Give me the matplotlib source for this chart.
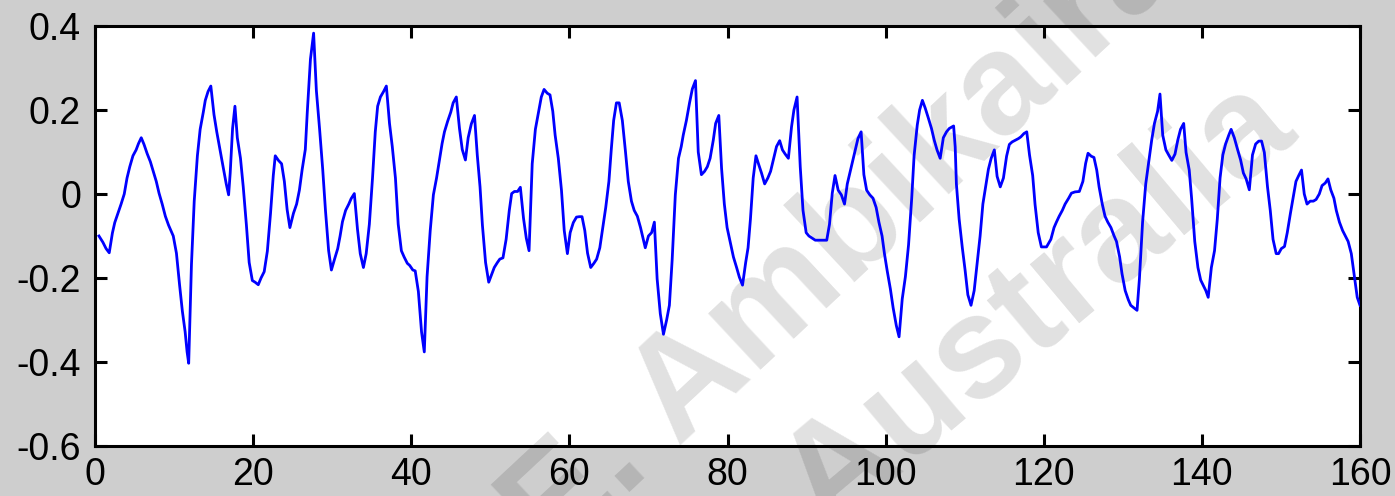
import numpy as np
import matplotlib.pyplot as plt

# (time, amplitude), one list per 40-unit stretch
seg_0_40 = [
    (0.5, -0.100), (1.0, -0.115), (1.4, -0.130), (1.8, -0.140), (2.2, -0.093), (2.5, -0.068),
    (2.9, -0.046), (3.3, -0.024), (3.7, 0.000), (4.05, 0.038), (4.4, 0.065), (4.8, 0.091),
    (5.2, 0.105), (5.5, 0.120), (5.85, 0.134), (6.2, 0.118), (6.6, 0.096), (7.0, 0.077),
    (7.4, 0.052), (7.75, 0.030), (8.1, 0.002), (8.5, -0.024), (8.9, -0.053), (9.3, -0.074),
    (9.6, -0.087), (9.9, -0.100), (10.3, -0.141), (10.7, -0.217), (11.05, -0.279), (11.4, -0.328),
    (11.65, -0.376), (11.85, -0.403), (12.2, -0.168), (12.55, -0.017), (12.95, 0.091), (13.3, 0.154),
    (13.7, 0.195), (13.95, 0.223), (14.3, 0.244), (14.65, 0.257), (15.05, 0.189), (15.4, 0.148),
    (15.8, 0.106), (16.2, 0.065), (16.6, 0.024), (16.9, -0.002), (17.1, 0.050), (17.4, 0.156),
    (17.7, 0.209), (18.0, 0.134), (18.4, 0.085), (18.75, 0.017), (19.15, -0.074), (19.5, -0.163),
    (19.9, -0.206), (20.25, -0.210), (20.65, -0.216), (21.0, -0.200), (21.4, -0.185), (21.8, -0.136),
    (22.2, -0.046), (22.55, 0.044), (22.8, 0.091), (23.2, 0.080), (23.6, 0.072), (23.95, 0.030),
    (24.3, -0.037), (24.65, -0.080), (24.85, -0.065), (25.1, -0.046), (25.5, -0.024), (25.85, 0.009),
    (26.2, 0.058), (26.6, 0.106), (26.85, 0.195), (27.25, 0.321), (27.65, 0.383), (28.0, 0.246),
    (28.4, 0.156), (28.8, 0.059), (29.15, -0.039), (29.55, -0.135), (29.9, -0.181), (30.3, -0.155),
    (30.7, -0.130), (31.0, -0.100), (31.3, -0.066), (31.7, -0.039), (32.1, -0.024), (32.4, -0.011),
    (32.8, 0.001), (33.2, -0.084), (33.55, -0.142), (33.95, -0.175), (34.3, -0.142), (34.7, -0.072),
    (35.1, 0.038), (35.45, 0.148), (35.75, 0.209), (36.1, 0.231), (36.5, 0.244), (36.85, 0.257),
    (37.25, 0.168), (37.6, 0.113), (38.0, 0.038), (38.35, -0.072), (38.75, -0.135), (39.1, -0.150),
    (39.5, -0.165), (39.8, -0.170),
]

seg_40_80 = [
    (40.2, -0.181), (40.5, -0.183), (40.9, -0.232), (41.3, -0.328), (41.65, -0.376), (42.0, -0.197),
    (42.4, -0.087), (42.8, -0.002), (43.2, 0.038), (43.55, 0.079), (43.9, 0.120), (44.2, 0.148),
    (44.6, 0.173), (45.0, 0.195), (45.3, 0.217), (45.7, 0.231), (46.1, 0.156), (46.45, 0.106),
    (46.85, 0.081), (47.2, 0.134), (47.6, 0.167), (48.0, 0.187), (48.35, 0.093), (48.7, 0.017),
    (49.0, -0.074), (49.4, -0.163), (49.8, -0.210), (50.2, -0.190), (50.5, -0.175), (50.9, -0.163),
    (51.2, -0.155), (51.6, -0.152), (52.0, -0.108), (52.4, -0.039), (52.7, 0.001), (53.05, 0.006),
    (53.45, 0.006), (53.8, 0.016), (54.2, -0.058), (54.55, -0.105), (54.9, -0.135), (55.3, 0.072),
    (55.7, 0.154), (56.1, 0.195), (56.45, 0.231), (56.8, 0.249), (57.2, 0.240), (57.55, 0.236),
    (57.9, 0.197), (58.2, 0.140), (58.6, 0.085), (59.0, 0.009), (59.35, -0.087), (59.75, -0.142),
    (60.1, -0.092), (60.5, -0.068), (60.9, -0.055), (61.25, -0.054), (61.6, -0.054), (61.95, -0.087),
    (62.3, -0.141), (62.7, -0.175), (63.1, -0.165), (63.45, -0.155), (63.85, -0.128), (64.2, -0.084),
    (64.6, -0.032), (65.0, 0.030), (65.3, 0.106), (65.6, 0.175), (65.95, 0.217), (66.3, 0.217),
    (66.7, 0.175), (67.1, 0.100), (67.45, 0.030), (67.85, -0.017), (68.2, -0.039), (68.6, -0.053),
    (69.0, -0.080), (69.35, -0.108), (69.6, -0.128), (70.0, -0.100), (70.4, -0.092), (70.75, -0.067),
    (71.1, -0.202), (71.5, -0.285), (71.9, -0.334), (72.3, -0.300), (72.65, -0.265), (73.0, -0.157),
    (73.4, -0.002), (73.8, 0.085), (74.15, 0.113), (74.4, 0.140), (74.8, 0.175), (75.2, 0.217),
    (75.55, 0.250), (75.95, 0.270), (76.3, 0.100), (76.7, 0.046), (77.1, 0.054), (77.45, 0.065),
    (77.8, 0.085), (78.2, 0.128), (78.5, 0.168), (78.9, 0.187), (79.25, 0.061), (79.6, -0.024),
    (79.95, -0.080),
]

seg_80_120 = [
    (80.4, -0.120), (80.75, -0.150), (81.15, -0.175), (81.5, -0.198), (81.9, -0.217), (82.3, -0.163),
    (82.6, -0.128), (82.9, -0.060), (83.25, 0.038), (83.6, 0.091), (83.95, 0.070), (84.3, 0.050),
    (84.7, 0.024), (85.1, 0.038), (85.45, 0.054), (85.85, 0.085), (86.2, 0.113), (86.6, 0.127),
    (86.95, 0.105), (87.3, 0.095), (87.7, 0.085), (88.1, 0.160), (88.4, 0.200), (88.8, 0.231),
    (89.2, 0.065), (89.55, -0.039), (89.95, -0.092), (90.3, -0.100), (90.7, -0.105), (91.1, -0.110),
    (92.55, -0.110), (92.9, -0.072), (93.25, 0.002), (93.6, 0.044), (94.0, 0.009), (94.4, -0.002),
    (94.8, -0.024), (95.15, 0.024), (95.5, 0.052), (95.85, 0.081), (96.2, 0.107), (96.5, 0.132),
    (96.9, 0.148), (97.25, 0.046), (97.6, 0.009), (98.0, -0.002), (98.4, -0.010), (98.8, -0.032),
    (99.15, -0.067), (99.55, -0.100), (99.85, -0.142), (100.2, -0.183), (100.6, -0.226), (100.95, -0.271),
    (101.35, -0.313), (101.7, -0.340), (102.1, -0.250), (102.5, -0.197), (102.9, -0.121), (103.3, -0.010),
    (103.6, 0.091), (104.0, 0.164), (104.3, 0.200), (104.65, 0.223), (105.0, 0.205), (105.4, 0.181),
    (105.8, 0.156), (106.15, 0.128), (106.5, 0.105), (106.9, 0.085), (107.3, 0.134), (107.7, 0.148),
    (108.05, 0.156), (108.6, 0.162), (108.8, 0.112), (108.95, 0.024), (109.3, -0.060), (109.7, -0.128),
    (110.05, -0.181), (110.4, -0.240), (110.8, -0.265), (111.2, -0.230), (111.55, -0.170), (111.95, -0.100),
    (112.3, -0.024), (112.7, 0.024), (113.0, 0.059), (113.35, 0.085), (113.75, 0.105), (114.1, 0.042),
    (114.5, 0.017), (114.9, 0.038), (115.3, 0.090), (115.65, 0.118), (116.0, 0.124), (116.4, 0.128),
    (116.8, 0.132), (117.1, 0.136), (117.5, 0.144), (117.85, 0.148), (118.2, 0.093), (118.6, 0.044),
    (118.9, -0.025), (119.3, -0.092), (119.7, -0.126),
]

seg_120_160 = [
    (120.35, -0.126), (120.9, -0.108), (121.3, -0.080), (121.6, -0.067), (121.95, -0.053), (122.35, -0.039),
    (122.7, -0.024), (123.15, -0.010), (123.5, 0.002), (123.95, 0.005), (124.5, 0.006), (124.95, 0.030),
    (125.3, 0.073), (125.6, 0.097), (126.0, 0.090), (126.35, 0.087), (126.7, 0.057), (127.0, 0.017),
    (127.4, -0.024), (127.75, -0.053), (128.1, -0.067), (128.5, -0.080), (128.9, -0.100), (129.2, -0.113),
    (129.6, -0.150), (129.9, -0.190), (130.3, -0.230), (130.7, -0.252), (131.0, -0.265), (131.4, -0.271),
    (131.8, -0.277), (132.1, -0.202), (132.5, -0.067), (132.9, 0.024), (133.3, 0.079), (133.65, 0.128),
    (134.0, 0.168), (134.4, 0.197), (134.7, 0.238), (135.05, 0.140), (135.45, 0.105), (135.8, 0.093),
    (136.2, 0.080), (136.6, 0.095), (136.95, 0.128), (137.3, 0.154), (137.7, 0.168), (138.0, 0.099),
    (138.4, 0.057), (138.7, -0.010), (139.1, -0.113), (139.5, -0.175), (139.85, -0.205), (140.5, -0.230),
    (140.8, -0.246), (141.2, -0.175), (141.6, -0.135), (141.95, -0.060), (142.3, 0.038), (142.65, 0.093),
    (143.0, 0.119), (143.4, 0.140), (143.7, 0.154), (144.1, 0.134), (144.5, 0.107), (144.9, 0.081),
    (145.25, 0.050), (145.6, 0.036), (146.0, 0.010), (146.4, 0.093), (146.8, 0.119), (147.2, 0.126),
    (147.55, 0.126), (147.9, 0.099), (148.3, 0.017), (148.65, -0.039), (149.0, -0.108), (149.4, -0.142),
    (149.7, -0.142), (150.05, -0.130), (150.45, -0.125), (150.8, -0.092), (151.2, -0.046), (151.6, -0.002),
    (151.9, 0.030), (152.25, 0.044), (152.6, 0.057), (152.95, 0.000), (153.3, -0.024), (153.7, -0.017),
    (154.1, -0.017), (154.45, -0.013), (154.85, 0.000), (155.2, 0.020), (155.6, 0.026), (155.95, 0.036),
    (156.3, 0.010), (156.7, -0.010), (157.0, -0.039), (157.4, -0.067), (157.8, -0.087), (158.15, -0.100),
    (158.5, -0.113), (158.9, -0.142), (159.3, -0.198), (159.65, -0.246), (160.0, -0.265),
]

xticks = [0, 20, 40, 60, 80, 100, 120, 140, 160]
yticks = [-0.6, -0.4, -0.2, 0, 0.2, 0.4]
ytick_labels = ['-0.6', '-0.4', '-0.2', '0', '0.2', '0.4']

samples = np.array(seg_0_40 + seg_40_80 + seg_80_120 + seg_120_160)
t, x = samples[:, 0], samples[:, 1]

plt.rcParams['font.family'] = ['Liberation Sans Narrow', 'Liberation Sans', 'DejaVu Sans']

W, H = 1395, 496
fig = plt.figure(figsize=(W / 100, H / 100), dpi=100, facecolor='#cecece')
ax = fig.add_axes([95 / W, 50 / H, 1265 / W, 420 / H])
ax.set_facecolor('white')

ax.plot(t, x, color='#0000ff', lw=2.0, zorder=3)

ax.set_xlim(0, 160)
ax.set_ylim(-0.6, 0.4)
ax.set_xticks(xticks)
ax.set_yticks(yticks)
ax.set_yticklabels(ytick_labels)
ax.tick_params(direction='in', length=8.5, width=2.2, top=True, right=True,
               labelsize=27, colors='black')
ax.tick_params(axis='x', pad=8)
ax.tick_params(axis='y', pad=10)
for s in ax.spines.values():
    s.set_linewidth(2.2)

# faint diagonal watermark, drawn under the trace
wm = dict(transform=fig.transFigure, clip_on=False, zorder=1,
          rotation_mode='anchor', ha='left', va='baseline', fontsize=104,
          fontweight='bold', family='Liberation Sans', color='black', alpha=0.12)
ax.text(553 / W, 1 - 564 / H, 'E. Ambikairajah', rotation=43, **wm)
ax.text(826 / W, 1 - 533 / H, 'Australia', rotation=40, **wm)

fig.savefig('out.png', dpi=100, facecolor=fig.get_facecolor())
